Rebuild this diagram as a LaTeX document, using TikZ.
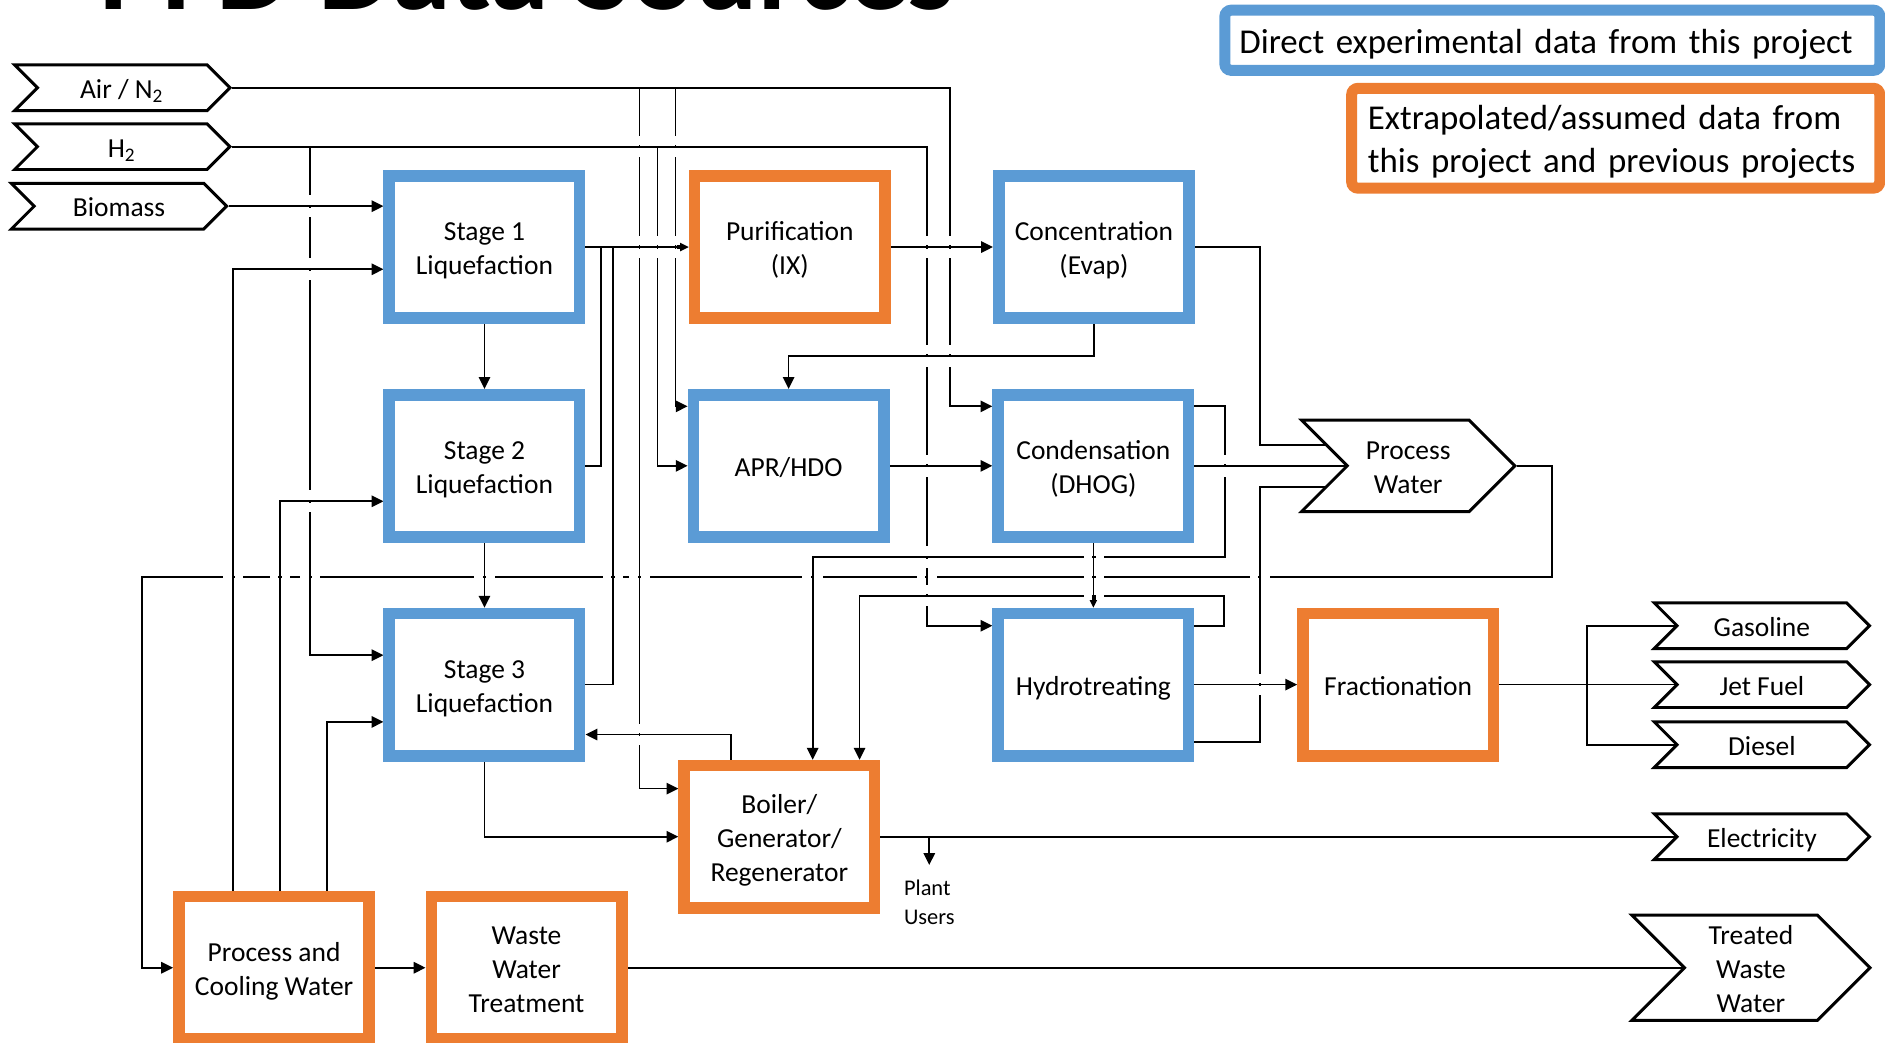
\documentclass[tikz,border=0pt]{standalone}
\usepackage{fontspec}
\setmainfont{Carlito}
\usepackage{xcolor}
\usetikzlibrary{arrows.meta,shapes.symbols,backgrounds,positioning}
\definecolor{datablue}{RGB}{91,155,213}
\definecolor{dataorange}{RGB}{237,125,49}

\begin{document}
\begin{tikzpicture}[x=0.01cm, y=-0.01cm, >={Triangle[length=2.8pt,width=2.7pt]}]

    % Styles
    \tikzset{
        boxtext/.style={text height=7pt, text depth=1.9pt, font=\fontsize{6.5}{8}\selectfont},
        twolines/.style={text height=15pt},
        threelines/.style={text height=23pt},
        unit/.style={rectangle, draw, line width=2.75pt, fill=white, minimum width=1.583cm, minimum height=1.183cm, align=center, inner sep=1pt, boxtext},
        direct/.style={unit, draw=datablue},
        assumed/.style={unit, draw=dataorange},
        chev/.style={signal, signal to=east, signal from=west, signal pointer angle=90, draw=black, line width=0.7pt, fill=white, minimum width=1.79cm, minimum height=0.38cm, inner sep=0pt, align=center, boxtext},
        pipe/.style={line width=0.75pt},
        legend/.style={rectangle, line width=2.6pt, fill=white, rounded corners=1.5pt, align=left, inner ysep=0pt, execute at begin node={\rule{0pt}{8.5pt}}, execute at end node={\rule[-2.3pt]{0pt}{0pt}}, font=\fontsize{8.25}{10.2}\selectfont}
    }

    % Frame
    \useasboundingbox (0,0) rectangle (1568,867);
    \clip (0,0) rectangle (1568,867);

    % Title (cut by the top edge)
    \node[anchor=base west, inner sep=0pt, font=\bfseries\fontsize{28}{30}\selectfont] (title) at (82,7.5) {PFD Data Sources};

    % Legend
    \node[legend, draw=datablue, text width=5.205cm, inner xsep=1.2mm, minimum height=0.5cm] (legdirect) at (1291.3,33.5) {Direct experimental data from this project};
    \node[legend, draw=dataorange, text width=4.12cm, inner xsep=1.35mm, minimum height=0.83cm] (legassumed) at (1344,115) {Extrapolated/assumed data from\\this project and previous projects};

    % Feeds and products
    \node[chev] (air) at (101.7,73) {Air / N\textsubscript{2}};
    \node[chev] (htwo) at (101.7,122) {H\textsubscript{2}};
    \node[chev] (bio) at (99,171.5) {Biomass};
    \node[chev, twolines, minimum width=1.773cm, minimum height=0.76cm] (pw) at (1171.4,387.5) {Process\\Water};
    \node[chev] (gas) at (1465.6,520.5) {Gasoline};
    \node[chev] (jet) at (1465.6,569.5) {Jet Fuel};
    \node[chev] (dsl) at (1465.6,619.5) {Diesel};
    \node[chev] (elec) at (1465.6,696) {Electricity};
    \node[chev, threelines, minimum width=1.98cm, minimum height=0.83cm] (tww) at (1456.5,805) {Treated\\Waste\\Water};

    % Process units
    \node[direct, twolines] (st1) at (403,205.5) {Stage 1\\Liquefaction};
    \node[direct, twolines] (st2) at (403,387.5) {Stage 2\\Liquefaction};
    \node[direct, twolines] (st3) at (403,569.5) {Stage 3\\Liquefaction};
    \node[assumed, twolines] (pur) at (657,205.5) {Purification\\(IX)};
    \node[direct] (apr) at (656,387.5) {APR/HDO};
    \node[direct, twolines] (conc) at (910,205.5) {Concentration\\(Evap)};
    \node[direct, twolines] (cond) at (909.5,387.5) {Condensation\\(DHOG)};
    \node[direct] (hydro) at (909.5,569.5) {Hydrotreating};
    \node[assumed] (frac) at (1163,569.5) {Fractionation};
    \node[assumed, threelines] (boil) at (648.3,696) {Boiler/\\Generator/\\Regenerator};
    \node[assumed, twolines] (pcw) at (228,805) {Process and\\Cooling Water};
    \node[assumed, threelines] (wwt) at (438,805) {Waste\\Water\\Treatment};
    \node[align=left, inner xsep=0pt, inner ysep=1.2mm, anchor=north, font=\fontsize{5.3}{6.8}\selectfont] (users) at (773,719.5) {Plant\\Users};

    \begin{scope}[on background layer, pipe]
        % Air and hydrogen
        \draw[->] (air.east) -| (790,338) -- (cond.west |- 0,338);
        \draw[->] (air.east -| 532,0) |- (boil.west |- 0,656);
        \draw[->] (air.east -| 562,0) |- (apr.west |- 0,338);
        \draw[->] (htwo.east) -| (771,520.5) -- (hydro.west |- 0,520.5);
        \draw[->] (htwo.east -| 547,0) |- (apr.west);
        \draw[->] (htwo.east -| 258,0) |- (st3.west |- 0,545);

        % Liquefaction train
        \draw[->] (bio.east) -- (st1.west |- bio.east);
        \draw[->] (st1.south) -- (st2.north);
        \draw[->] (st2.south) -- (st3.north);
        \draw[->] (st1.east) -- (pur.west);
        \draw (st2.east) -| (st1.east -| 500,0);
        \draw (st3.east) -| (st1.east -| 510,0);
        \draw[->] (st3.south) |- (boil.west);
        \draw[->] (boil.north -| 608,0) |- (st3.east |- 0,611);

        % Upgrading
        \draw[->] (pur.east) -- (conc.west);
        \draw[->] (conc.south) -- (910,296) -| (apr.north);
        \draw[->] (apr.east) -- (cond.west);
        \draw[->] (cond.south) -- (hydro.north);
        \draw[->] (hydro.east) -- (frac.west);
        \draw (frac.east) -- (jet.center);
        \draw (gas.center) -| (1320,569.5) |- (dsl.center);

        % Water and off-gas
        \draw (conc.east) -| (1048,370) -- (pw.center |- 0,370);
        \draw (cond.east) -- (pw.center);
        \draw (hydro.east |- 0,617) -| (1048,405) -- (pw.center |- 0,405);
        \draw[->] (cond.east |- 0,338) -| (1019,463.5) -| (boil.north -| 676,0);
        \draw[->] (hydro.east |- 0,520.5) -| (1018,495.5) -| (boil.north -| 715,0);
        \draw[->] (pw.east) -| (1291,480) -| (118,805) -- (pcw.west);
        \draw[->] (pcw.north -| 194,0) |- (st1.west |- 0,224);
        \draw[->] (pcw.north -| 233,0) |- (st2.west |- 0,417);
        \draw[->] (pcw.north -| 272,0) |- (st3.west |- 0,600.5);
        \draw[->] (pcw.east) -- (wwt.west);
        \draw (wwt.east) -- (tww.center);

        % Power
        \draw (boil.east) -- (elec.center);
        \draw[->] (boil.east -| users.north) -- (users.north);

        % Line jumps: vertical line broken
        \foreach \x/\y in {532/122, 562/122, 258/171.5, 258/224, 258/417, 532/205.5, 547/205.5, 562/205.5, 771/205.5, 790/205.5, 771/296, 790/296, 771/387.5, 1019/387.5, 771/463.5, 771/495.5, 1048/569.5, 532/611}
        {
            \fill[white] (\x-4,\y-9) rectangle (\x+4,\y-1.35);
            \fill[white] (\x-4,\y+1.35) rectangle (\x+4,\y+9);
        }
        % Line jumps: horizontal line broken
        \foreach \x/\y in {194/480, 233/480, 258/480, 403/480, 510/480, 532/480, 676/480, 771/480, 910/480, 1048/480, 910/463.5, 910/495.5}
        {
            \fill[white] (\x-8.5,\y-4) rectangle (\x-1.35,\y+4);
            \fill[white] (\x+1.35,\y-4) rectangle (\x+8.5,\y+4);
        }
    \end{scope}

\end{tikzpicture}
\end{document}
